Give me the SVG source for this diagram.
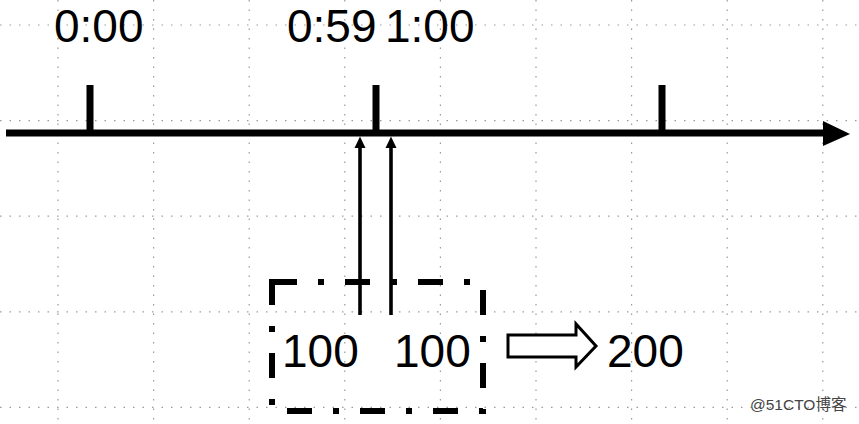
<svg xmlns="http://www.w3.org/2000/svg" width="859" height="424" viewBox="0 0 859 424">
  <style>
    .grid { stroke: #9a9a9a; stroke-width: 1.2; stroke-dasharray: 1.5 8; fill: none; }
    .lbl { font-family: "Liberation Sans", Arial, sans-serif; font-size: 46px; fill: #000; }
    .thick { stroke: #000; stroke-width: 7; fill: none; }
    .up { stroke: #000; stroke-width: 3.6; fill: none; }
    .wm { font-family: "Liberation Sans", "Noto Sans CJK SC", sans-serif; font-size: 15.5px; fill: #444; }
  </style>
  <rect width="859" height="424" fill="#fff"/>
  <g id="grid">
    <path class="grid" d="M0,25 H859 M0,120.6 H859 M0,216.2 H859 M0,311.8 H859 M0,407.4 H859"/>
    <path class="grid" d="M58,0 V424 M153.6,0 V424 M249.2,0 V424 M344.8,0 V424 M440.4,0 V424 M536,0 V424 M631.6,0 V424 M727.2,0 V424 M822.8,0 V424"/>
  </g>
  <g id="timeline">
    <line class="thick" x1="6" y1="133" x2="826" y2="133"/>
    <polygon points="823,121 850,134 823,146" fill="#000"/>
  </g>
  <g id="tick-0000">
    <line class="thick" x1="90" y1="85" x2="90" y2="133"/>
    <text class="lbl" x="54" y="42">0:00</text>
  </g>
  <g id="tick-0100">
    <line class="thick" x1="376" y1="85" x2="376" y2="133"/>
    <text class="lbl" x="287" y="42">0:59</text>
    <text class="lbl" x="385" y="42">1:00</text>
  </g>
  <g id="tick-end">
    <line class="thick" x1="662" y1="85" x2="662" y2="133"/>
  </g>
  <g id="bucket">
    <rect x="272" y="282" width="211" height="129" fill="none" stroke="#000" stroke-width="6" stroke-dasharray="25 21 6 21"/>
    <text class="lbl" x="282" y="367">100</text>
    <text class="lbl" x="394" y="367">100</text>
  </g>
  <g id="result">
    <text class="lbl" x="607" y="367">200</text>
  </g>
  <g id="connectors">
    <path d="M360,146 V315" class="up"/>
    <polygon points="360,136.5 354.5,148 365.5,148" fill="#000"/>
    <path d="M391,146 V315" class="up"/>
    <polygon points="391,136.5 385.5,148 396.5,148" fill="#000"/>
    <polygon points="508,335 576,335 576,324 596,346 576,367 576,357 508,357" fill="#fff" stroke="#000" stroke-width="3" stroke-linejoin="miter"/>
  </g>
  <text class="wm" x="750" y="410">@51CTO博客</text>
</svg>
